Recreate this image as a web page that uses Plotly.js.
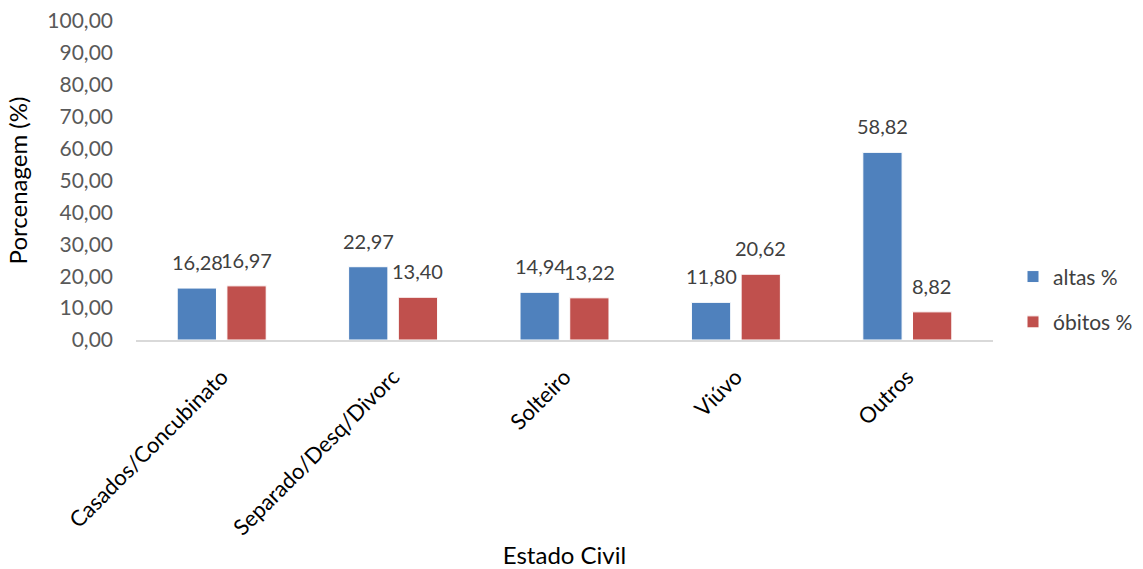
<!DOCTYPE html>
<html>
<head>
<meta charset="utf-8">
<script src="https://cdn.plot.ly/plotly-3.0.1.min.js"></script>
<style>html,body{margin:0;padding:0;background:#fff;}#chart{width:1143px;height:569px;}</style>
</head>
<body>
<div id="chart"></div>
<script>
const categories = ['Casados/Concubinato', 'Separado/Desq/Divorc', 'Solteiro', 'Viúvo', 'Outros'];
const altas = [16.28, 22.97, 14.94, 11.80, 58.82];
const obitos = [16.97, 13.40, 13.22, 20.62, 8.82];
const seriesNames = ['altas %', 'óbitos %'];
const yTicks = [0, 10, 20, 30, 40, 50, 60, 70, 80, 90, 100];

const FONT = 'Lato, "Open Sans", sans-serif';
const fmt = v => v.toFixed(2).replace('.', ',');

const traces = [
  {type: 'bar', name: seriesNames[0], x: categories, y: altas, legendgroup: 'a',
   marker: {color: '#4F81BD', line: {color: '#ffffff', width: 1}}, hoverinfo: 'skip'},
  {type: 'bar', name: seriesNames[1], x: categories, y: obitos, legendgroup: 'b',
   marker: {color: '#C0504D', line: {color: '#ffffff', width: 1}}, hoverinfo: 'skip'}
];

const annotations = [];
const slotShift = 24.5;
[altas, obitos].forEach((arr, si) => {
  arr.forEach((v, i) => {
    annotations.push({
      x: categories[i], y: v, xref: 'x', yref: 'y',
      text: fmt(v), showarrow: false, yanchor: 'bottom',
      xshift: si === 0 ? -slotShift : slotShift, yshift: 12,
      font: {family: FONT, size: 20, color: '#404040'}
    });
  });
});

const layout = {
  width: 1143, height: 569,
  margin: {l: 136, r: 5, t: 21, b: 229},
  paper_bgcolor: '#fff', plot_bgcolor: '#fff',
  separators: ',.',
  barmode: 'group', bargap: 0.42, bargroupgap: 0.21,
  font: {family: FONT, size: 20, color: '#595959'},
  showlegend: true,
  legend: {x: 1, xanchor: 'right', y: 0.262, yanchor: 'top',
    font: {family: FONT, size: 21, color: '#404040'}, tracegroupgap: 15,
    bgcolor: 'rgba(0,0,0,0)'},
  xaxis: {
    type: 'category', domain: [0, 0.8553], showgrid: false, zeroline: false,
    showline: true, linecolor: '#D9D9D9', linewidth: 1.5,
    ticks: '', tickangle: -45, ticklabelstandoff: 14,
    tickfont: {family: FONT, size: 22, color: '#000000'},
    title: {text: 'Estado Civil', font: {family: FONT, size: 24, color: '#000000'}, standoff: 11}
  },
  yaxis: {
    range: [0, 100], tickvals: yTicks, ticktext: yTicks.map(fmt),
    showgrid: false, zeroline: false, showline: false, ticks: '',
    ticklabelstandoff: 22,
    tickfont: {family: FONT, size: 21, color: '#595959'},
    title: {text: 'Porcenagem (%)', font: {family: FONT, size: 24, color: '#000000'}, standoff: 12}
  },
  annotations: annotations
};

Plotly.newPlot('chart', traces, layout, {staticPlot: true, displayModeBar: false});
</script>
</body>
</html>
